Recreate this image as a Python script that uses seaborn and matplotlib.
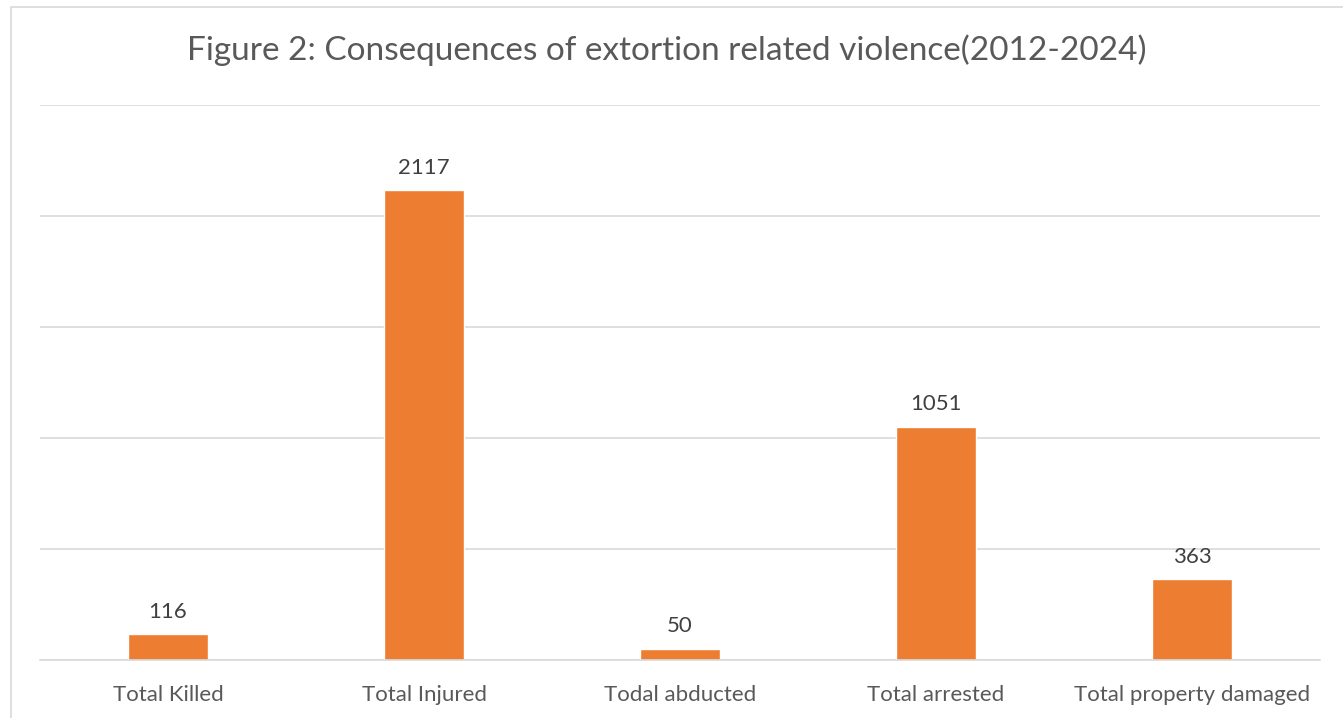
import matplotlib
matplotlib.use("Agg")
import matplotlib.pyplot as plt
import seaborn as sns
import pandas as pd
from matplotlib.patches import Rectangle

categories = ["Total Killed", "Total Injured", "Todal abducted", "Total arrested", "Total property damaged"]
values = [116, 2117, 50, 1051, 363]
title = "Figure 2: Consequences of extortion related violence(2012-2024)"

sns.set_theme(style="white")
plt.rcParams["font.family"] = ["Lato", "DejaVu Sans"]

W, H = 1343, 718
fig = plt.figure(figsize=(W / 100, H / 100), dpi=100)
fig.patch.set_facecolor("white")

# chart frame (runs off the right and bottom edges)
fig.add_artist(Rectangle((11 / W, -0.1), 1.2, 1 - 7 / H + 0.1,
                         transform=fig.transFigure, fill=False,
                         edgecolor="#D9D9D9", lw=1.2))

ax = fig.add_axes([40 / W, 1 - 660 / H, 1280 / W, 555 / H])
df = pd.DataFrame({"cat": categories, "val": values})
sns.barplot(data=df, x="cat", y="val", color="#ED7D31", saturation=1,
            width=0.3125, ax=ax)

ax.set_ylim(0, 2500)
ax.set_yticks(range(0, 2501, 500))
ax.yaxis.grid(True, color="#D9D9D9", lw=1.2)
ax.set_axisbelow(True)
ax.tick_params(axis="y", left=False, labelleft=False)
ax.tick_params(axis="x", bottom=False, labelsize=16, labelcolor="#595959", pad=12)
for s in ["top", "right", "left"]:
    ax.spines[s].set_visible(False)
ax.spines["bottom"].set_color("#D9D9D9")
ax.spines["bottom"].set_linewidth(1.2)
ax.set_xlabel("")
ax.set_ylabel("")

for c in ax.containers:
    ax.bar_label(c, labels=[str(v) for v in values], padding=9,
                 fontsize=16, color="#404040")

fig.text(667 / W, 1 - 50 / H, title, ha="center", va="center",
         fontsize=24, color="#595959")

fig.savefig("out.png", dpi=100, facecolor="white")
